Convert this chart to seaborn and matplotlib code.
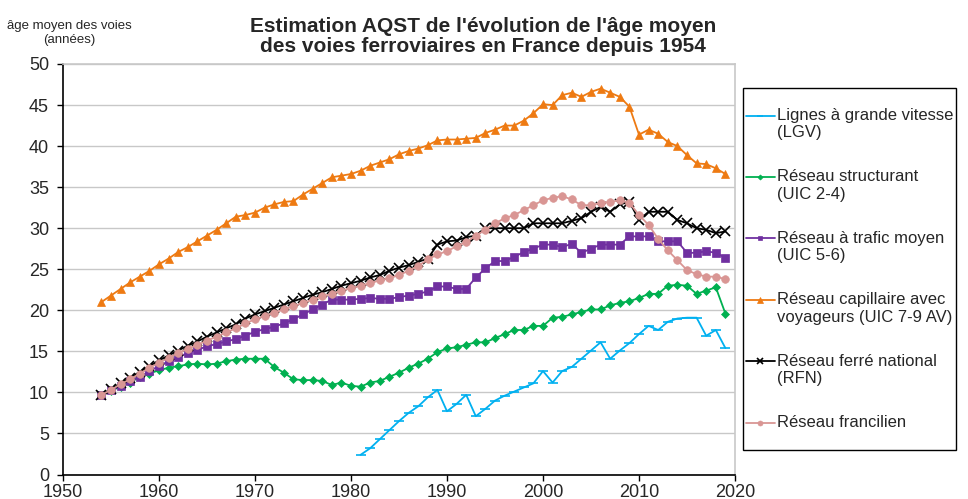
import numpy as np
import pandas as pd
import matplotlib
matplotlib.use("Agg")
import matplotlib.pyplot as plt
import seaborn as sns

# années
annees = list(range(1954, 2020))
annees_lgv = list(range(1981, 2020))

# âge moyen par réseau
lgv = [2.4, 3.2, 4.3, 5.4, 6.5, 7.5, 8.3, 9.4, 10.3, 7.7,
       8.6, 9.7, 7.1, 8.0, 9.0, 9.6, 10.1, 10.6, 11.1, 12.6,
       11.2, 12.6, 13.1, 14.1, 15.1, 16.1, 14.1, 15.1, 16.0, 17.1,
       18.1, 17.6, 18.6, 19.0, 19.1, 19.1, 16.9, 17.6, 15.4]

structurant = [9.7, 10.2, 10.7, 11.2, 11.9, 12.3, 12.7, 13.0, 13.2, 13.4,
               13.5, 13.4, 13.5, 13.8, 14.0, 14.1, 14.1, 14.1, 13.1, 12.4,
               11.6, 11.5, 11.5, 11.4, 10.9, 11.2, 10.8, 10.7, 11.2, 11.4,
               11.9, 12.4, 13.0, 13.5, 14.1, 14.9, 15.35, 15.5, 15.8, 16.1,
               16.1, 16.6, 17.1, 17.6, 17.6, 18.1, 18.1, 19.1, 19.2, 19.5,
               19.8, 20.1, 20.1, 20.6, 20.9, 21.1, 21.5, 22.0, 22.0, 23.0,
               23.1, 23.0, 22.0, 22.4, 22.8, 19.6]

trafic_moyen = [9.7, 10.3, 10.8, 11.4, 11.9, 12.6, 13.2, 13.8, 14.3, 14.8,
                15.2, 15.6, 15.9, 16.2, 16.5, 16.9, 17.4, 17.7, 18.0, 18.4,
                18.9, 19.5, 20.1, 20.7, 21.3, 21.3, 21.3, 21.4, 21.5, 21.4,
                21.4, 21.6, 21.8, 22.0, 22.3, 22.9, 22.9, 22.6, 22.6, 24.0,
                25.1, 26.0, 26.0, 26.5, 27.1, 27.5, 28.0, 28.0, 27.7, 28.1,
                27.0, 27.5, 28.0, 28.0, 28.0, 29.0, 29.0, 29.0, 28.4, 28.4,
                28.4, 27.0, 27.0, 27.2, 27.0, 26.4]

capillaire = [21.0, 21.8, 22.6, 23.4, 24.1, 24.8, 25.6, 26.3, 27.1, 27.7,
              28.4, 29.1, 29.8, 30.6, 31.4, 31.6, 31.9, 32.5, 32.9, 33.2,
              33.3, 34.1, 34.8, 35.5, 36.2, 36.4, 36.6, 37.0, 37.6, 38.0,
              38.4, 39.0, 39.4, 39.7, 40.1, 40.7, 40.8, 40.8, 40.9, 41.0,
              41.6, 42.0, 42.5, 42.5, 43.1, 44.0, 45.1, 45.0, 46.2, 46.5,
              46.0, 46.6, 47.0, 46.5, 46.0, 44.8, 41.4, 42.0, 41.5, 40.5,
              40.0, 38.9, 37.9, 37.8, 37.3, 36.6]

rfn = [9.7, 10.4, 11.1, 11.8, 12.5, 13.2, 13.9, 14.5, 15.1, 15.7,
       16.2, 16.8, 17.3, 17.8, 18.3, 19.0, 19.5, 19.9, 20.3, 20.7,
       21.1, 21.5, 21.9, 22.2, 22.6, 23.0, 23.3, 23.6, 24.0, 24.3,
       24.8, 25.2, 25.5, 25.9, 26.3, 28.0, 28.4, 28.5, 28.9, 29.1,
       30.0, 30.0, 30.0, 30.0, 30.0, 30.6, 30.6, 30.6, 30.6, 30.9,
       31.2, 32.0, 32.6, 32.0, 32.9, 33.2, 31.0, 32.0, 32.0, 32.0,
       31.0, 30.6, 30.0, 29.8, 29.4, 29.6]

francilien = [9.7, 10.3, 11.0, 11.6, 12.3, 13.0, 13.6, 14.2, 14.8, 15.3,
              15.8, 16.3, 16.8, 17.3, 17.8, 18.4, 18.9, 19.3, 19.7, 20.1,
              20.5, 20.9, 21.3, 21.7, 22.0, 22.4, 22.7, 23.0, 23.3, 23.65,
              23.9, 24.3, 24.8, 25.4, 26.2, 26.8, 27.2, 27.8, 28.3, 29.1,
              29.8, 30.6, 31.2, 31.6, 32.2, 32.8, 33.4, 33.7, 33.9, 33.5,
              32.8, 32.8, 33.1, 33.2, 33.4, 33.1, 31.6, 30.4, 28.7, 27.3,
              26.1, 24.9, 24.4, 24.1, 24.1, 23.8]

libelles = ["Lignes à grande vitesse\n(LGV)",
            "Réseau structurant\n(UIC 2-4)",
            "Réseau à trafic moyen\n(UIC 5-6)",
            "Réseau capillaire avec\nvoyageurs (UIC 7-9 AV)",
            "Réseau ferré national\n(RFN)",
            "Réseau francilien\n"]
couleurs = ["#00B0F0", "#00B050", "#7030A0", "#EE7A12", "#000000", "#D99694"]
marqueurs = ["_", "D", "s", "^", "x", "o"]
tailles = [7, 4, 5.5, 5.8, 6.5, 5.5]

series = [(annees_lgv, lgv), (annees, structurant), (annees, trafic_moyen),
          (annees, capillaire), (annees, rfn), (annees, francilien)]

sns.set_style("white")
plt.rcParams["font.family"] = ["Liberation Sans", "DejaVu Sans"]

fig = plt.figure(figsize=(9.68, 4.99), dpi=100)
ax = fig.add_axes([63 / 968, 1 - 474.5 / 499, 672 / 968, 410.5 / 499])

for (x, y), lab, c, m, s in zip(series, libelles, couleurs, marqueurs, tailles):
    df = pd.DataFrame({"annee": x, "age": y})
    sns.lineplot(data=df, x="annee", y="age", ax=ax, color=c, marker=m,
                 markersize=s, markeredgecolor=c, markeredgewidth=1.2 if m in "x_" else 0.5,
                 linewidth=1.3, label="\n" + lab)

ax.set_xlim(1950, 2020)
ax.set_ylim(0, 50)
ax.set_xticks(range(1950, 2021, 10))
ax.set_yticks(range(0, 51, 5))
ax.set_xlabel("")
ax.set_ylabel("")
ax.yaxis.grid(True, color="#C8C8C8", linewidth=1)
ax.xaxis.grid(False)
for cote in ["top", "right"]:
    ax.spines[cote].set_color("#C8C8C8")
    ax.spines[cote].set_linewidth(1.2)
for cote in ["left", "bottom"]:
    ax.spines[cote].set_color("black")
    ax.spines[cote].set_linewidth(1.2)
ax.tick_params(axis="both", which="major", direction="out", length=4, width=1,
               color="black", labelsize=13, left=True, bottom=True)
ax.tick_params(axis="y", pad=6)
ax.tick_params(axis="x", pad=2.5)

fig.text(0.499, 0.927,
         "Estimation AQST de l'évolution de l'âge moyen\ndes voies ferroviaires en France depuis 1954",
         ha="center", va="center", fontsize=15, fontweight="bold", linespacing=1.05)
fig.text(69 / 968, 1 - 33 / 499, "âge moyen des voies\n(années)",
         ha="center", va="center", fontsize=9.5, linespacing=1.3)

leg = ax.legend(loc="upper left", bbox_to_anchor=(743 / 968, 1 - 88 / 499),
                bbox_transform=fig.transFigure, frameon=True, fancybox=False,
                edgecolor="black", framealpha=1, fontsize=12, handlelength=1.75,
                handletextpad=0.15, borderpad=0.15, labelspacing=0.7,
                borderaxespad=0, markerscale=0.65)
leg.get_frame().set_linewidth(1.0)

fig.savefig("out.png", dpi=100)
